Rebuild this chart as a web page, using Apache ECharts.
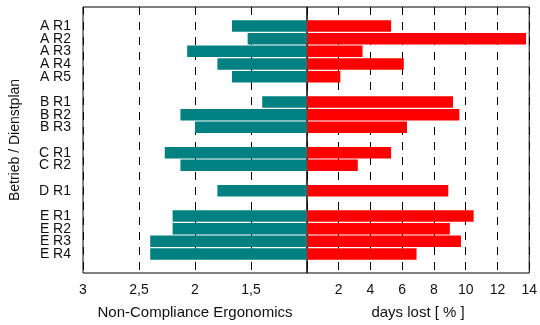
<!DOCTYPE html>
<html>
<head>
<meta charset="utf-8">
<script src="https://cdn.jsdelivr.net/npm/echarts@6/dist/echarts.min.js"></script>
<style>
  html, body { margin: 0; padding: 0; background: #fff; }
  #chart { width: 540px; height: 325px; }
</style>
</head>
<body>
<div id="chart"></div>
<script>
// Rows grouped by Betrieb; an empty row separates the groups.
const groups = [
  ['A R1', 'A R2', 'A R3', 'A R4', 'A R5'],
  ['B R1', 'B R2', 'B R3'],
  ['C R1', 'C R2'],
  ['D R1'],
  ['E R1', 'E R2', 'E R3', 'E R4']
];
// Non-Compliance Ergonomics score per row (left side, axis 3 .. 1)
const nonCompliance = [1.67, 1.53, 2.07, 1.80, 1.67, 1.40, 2.13, 2.00, 2.27, 2.13, 1.80, 2.20, 2.20, 2.40, 2.40];
// Days lost in percent per row (right side, axis 0 .. 14)
const daysLost = [5.3, 13.8, 3.5, 6.1, 2.1, 9.2, 9.6, 6.3, 5.3, 3.2, 8.9, 10.5, 9.0, 9.7, 6.9];
const leftTicks = [3, 2.5, 2, 1.5];
const rightTicks = [2, 4, 6, 8, 10, 12, 14];

// Build the slot list: blank slot at top, groups separated by blank slots, blank at bottom.
const slots = [''];
const leftData = ['-'];
const rightData = ['-'];
let k = 0;
groups.forEach((g, gi) => {
  if (gi > 0) { slots.push(''); leftData.push('-'); rightData.push('-'); }
  g.forEach(name => {
    slots.push(name);
    leftData.push(nonCompliance[k]);
    rightData.push(daysLost[k]);
    k++;
  });
});
slots.push(''); leftData.push('-'); rightData.push('-');

const FONT = 'Liberation Sans, Arial, sans-serif';
const dashed = { show: true, lineStyle: { color: '#000', width: 1, type: [8, 7] } };

const chart = echarts.init(document.getElementById('chart'), null, { renderer: 'canvas' });
chart.setOption({
  animation: false,
  backgroundColor: '#fff',
  grid: [
    { left: 83, top: 7, width: 224, height: 269, show: true, borderColor: '#000', borderWidth: 1, backgroundColor: 'transparent', containLabel: false },
    { left: 307, top: 7, width: 224, height: 269, show: true, borderColor: '#000', borderWidth: 1, backgroundColor: 'transparent', containLabel: false }
  ],
  xAxis: [
    {
      gridIndex: 0, type: 'value', min: 1, max: 3, interval: 0.5, inverse: true, startValue: 1,
      axisLine: { show: false }, axisTick: { show: false },
      splitLine: dashed,
      axisLabel: {
        margin: 10, fontFamily: FONT, fontSize: 14, color: '#111',
        formatter: v => leftTicks.includes(v) ? String(v).replace('.', ',') : ''
      },
      name: 'Non-Compliance Ergonomics', nameLocation: 'middle', nameGap: 32,
      nameTextStyle: { fontFamily: FONT, fontSize: 15, color: '#111' }
    },
    {
      gridIndex: 1, type: 'value', min: 0, max: 14, interval: 2,
      axisLine: { show: false }, axisTick: { show: false },
      splitLine: dashed,
      axisLabel: {
        margin: 10, fontFamily: FONT, fontSize: 14, color: '#111',
        formatter: v => rightTicks.includes(v) ? String(v) : ''
      },
      name: 'days lost [ % ]', nameLocation: 'middle', nameGap: 32,
      nameTextStyle: { fontFamily: FONT, fontSize: 15, color: '#111' }
    }
  ],
  yAxis: [
    {
      gridIndex: 0, type: 'category', data: slots, inverse: true, position: 'left',
      axisLine: { show: false, onZero: false }, axisTick: { show: false },
      axisLabel: { margin: 12, fontFamily: FONT, fontSize: 14, color: '#111', interval: 0 },
      name: 'Betrieb / Dienstplan', nameLocation: 'middle', nameGap: 61, nameRotate: 90,
      nameTextStyle: { fontFamily: FONT, fontSize: 14, color: '#111' }
    },
    {
      gridIndex: 1, type: 'category', data: slots, inverse: true, position: 'left',
      axisLine: { show: false, onZero: false }, axisTick: { show: false },
      axisLabel: { show: false }
    }
  ],
  series: [
    {
      name: 'Non-Compliance Ergonomics', type: 'bar', xAxisIndex: 0, yAxisIndex: 0,
      data: leftData, barCategoryGap: '9%', clip: true,
      itemStyle: { color: '#008080' }
    },
    {
      name: 'days lost', type: 'bar', xAxisIndex: 1, yAxisIndex: 1,
      data: rightData, barCategoryGap: '9%', clip: true,
      itemStyle: { color: '#ff0000' }
    }
  ]
});
</script>
</body>
</html>
